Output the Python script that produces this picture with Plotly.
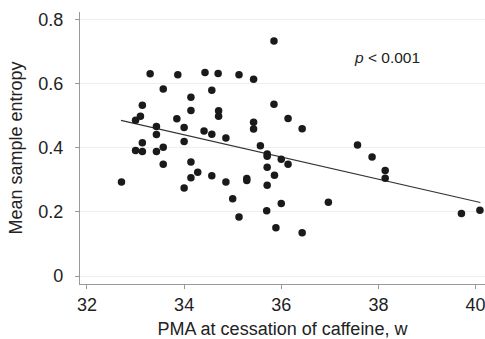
import plotly.graph_objects as go

pma_weeks = [33.30, 33.87, 33.57, 34.14, 33.14, 34.14, 33.10, 33.00, 33.85, 33.43,
             34.00, 33.43, 35.85, 34.43, 34.70, 35.13, 35.43, 34.57, 35.85, 34.71,
             34.71, 36.14, 35.43, 35.43, 36.43, 34.41, 34.57, 34.86, 34.00, 33.14,
             33.00, 33.14, 33.43, 33.57, 34.14, 33.57, 34.28, 34.14, 34.00, 32.71,
             35.57, 35.71, 35.71, 36.00, 36.14, 35.71, 34.57, 35.86, 34.86, 35.29,
             35.29, 35.71, 35.00, 36.00, 36.97, 35.70, 35.13, 35.89, 36.43, 37.57,
             37.87, 38.14, 38.14, 39.71, 40.09]
sample_entropy = [0.630, 0.627, 0.583, 0.557, 0.532, 0.516, 0.498, 0.485, 0.490, 0.466,
                  0.463, 0.441, 0.732, 0.634, 0.631, 0.627, 0.613, 0.579, 0.535, 0.515,
                  0.498, 0.491, 0.479, 0.458, 0.459, 0.452, 0.442, 0.430, 0.419, 0.415,
                  0.391, 0.388, 0.388, 0.401, 0.355, 0.348, 0.323, 0.306, 0.274, 0.293,
                  0.406, 0.380, 0.373, 0.364, 0.348, 0.339, 0.3125, 0.314, 0.293, 0.304,
                  0.298, 0.283, 0.241, 0.226, 0.230, 0.203, 0.184, 0.150, 0.135, 0.408,
                  0.371, 0.329, 0.305, 0.195, 0.205]

fit_x = [32.70, 40.10]
fit_y = [0.485, 0.229]

x_ticks = [32, 34, 36, 38, 40]
y_ticks = [0, 0.2, 0.4, 0.6, 0.8]
y_tick_labels = ["0", "0.2", "0.4", "0.6", "0.8"]

font_family = "Liberation Sans, Arial, sans-serif"
text_color = "#222222"

fig = go.Figure()
fig.add_trace(go.Scatter(
    x=fit_x, y=fit_y, mode="lines",
    line=dict(color="#333333", width=1.1),
    hoverinfo="skip", showlegend=False,
))
fig.add_trace(go.Scatter(
    x=pma_weeks, y=sample_entropy, mode="markers",
    marker=dict(color="#1a1a1a", size=7.5, line=dict(width=0)),
    cliponaxis=False, showlegend=False,
))

fig.add_annotation(
    x=38.17, y=0.681, xref="x", yref="y",
    text="<i>p</i> < 0.001", showarrow=False,
    font=dict(family=font_family, size=15.5, color=text_color),
)

fig.update_layout(
    width=485, height=339,
    margin=dict(l=80, r=0, t=12, b=55, autoexpand=False),
    paper_bgcolor="white", plot_bgcolor="white",
    font=dict(family=font_family, color=text_color),
    showlegend=False,
)
fig.update_xaxes(
    range=[31.856, 40.195], automargin=False,
    tickvals=x_ticks, ticks="outside", ticklen=4, tickcolor="#999999",
    ticklabeloverflow="allow",
    showline=True, linecolor="#999999", linewidth=1.2,
    showgrid=False, zeroline=False,
    tickfont=dict(size=18, family=font_family, color=text_color),
    title=dict(text="PMA at cessation of caffeine, w",
               font=dict(size=18, family=font_family, color=text_color),
               standoff=9),
)
fig.update_yaxes(
    range=[-0.0249, 0.8227], automargin=False,
    tickvals=y_ticks, ticktext=y_tick_labels,
    ticks="outside", ticklen=4, tickcolor="#999999",
    ticklabelstandoff=8,
    showline=True, linecolor="#999999", linewidth=1.2,
    showgrid=True, gridcolor="#eeeeee", gridwidth=1,
    zeroline=False,
    tickfont=dict(size=18, family=font_family, color=text_color),
    title=dict(text="Mean sample entropy",
               font=dict(size=18, family=font_family, color=text_color),
               standoff=10),
)

fig.write_html(
    "out.html",
    config={"displayModeBar": False},
    post_script="document.body.style.margin='0';document.body.style.overflow='hidden';",
)
